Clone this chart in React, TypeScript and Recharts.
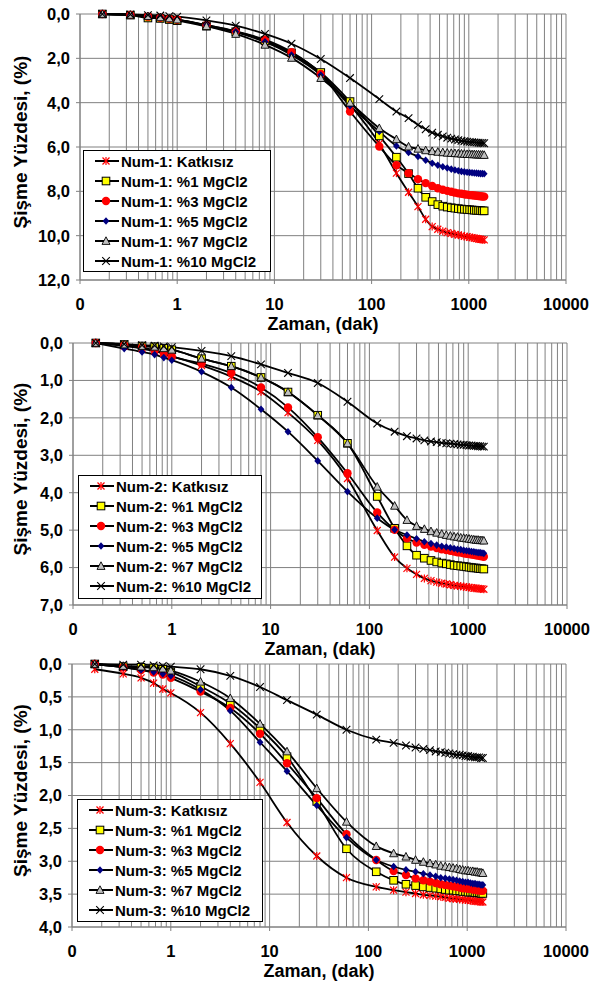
import React from "react";
import { LineChart, Line, XAxis, YAxis, CartesianGrid, ReferenceLine, Legend } from "recharts";

const FONT = '"Liberation Sans", Arial, sans-serif';

// zaman (dak)
const times = [0.17, 0.33, 0.5, 0.67, 0.83, 1, 2, 4, 8, 15, 30, 60, 120, 180, 240, 300, 360, 420, 480, 540, 600, 660, 720, 780, 840, 900, 960, 1020, 1080, 1140, 1200, 1260, 1320, 1380, 1440];

const xTicks = [0.1, 1, 10, 100, 1000, 10000];
const seriesLabels = ["Katkısız", "%1 MgCl2", "%3 MgCl2", "%5 MgCl2", "%7 MgCl2", "%10 MgCl2"];
const markerKinds = ["star", "square", "circle", "diamond", "triangle", "cross"];

// Num-1
const num1Katkisiz = [0.0, 0.03, 0.12, 0.18, 0.22, 0.27, 0.52, 0.82, 1.25, 1.8, 2.7, 4.1, 5.85, 7.18, 8.04, 8.69, 9.26, 9.59, 9.71, 9.8, 9.86, 9.9, 9.94, 9.97, 10.0, 10.03, 10.05, 10.07, 10.09, 10.11, 10.13, 10.15, 10.16, 10.18, 10.19];
const num1Mg1 = [0.0, 0.05, 0.18, 0.2, 0.25, 0.3, 0.55, 0.8, 1.2, 1.75, 2.64, 3.95, 5.5, 6.46, 7.2, 7.86, 8.27, 8.46, 8.6, 8.67, 8.71, 8.74, 8.76, 8.78, 8.8, 8.81, 8.82, 8.83, 8.84, 8.85, 8.86, 8.86, 8.87, 8.88, 8.88];
const num1Mg3 = [0.0, 0.04, 0.12, 0.17, 0.22, 0.26, 0.5, 0.78, 1.16, 1.72, 2.7, 4.4, 5.98, 6.82, 7.18, 7.45, 7.63, 7.76, 7.86, 7.93, 7.98, 8.02, 8.06, 8.09, 8.11, 8.13, 8.15, 8.17, 8.18, 8.19, 8.2, 8.21, 8.22, 8.23, 8.24];
const num1Mg5 = [0.0, 0.04, 0.1, 0.15, 0.2, 0.25, 0.5, 0.8, 1.25, 1.85, 2.75, 4.14, 5.3, 5.95, 6.25, 6.43, 6.6, 6.73, 6.82, 6.89, 6.95, 7.0, 7.04, 7.07, 7.1, 7.12, 7.14, 7.15, 7.16, 7.17, 7.18, 7.19, 7.2, 7.2, 7.21];
const num1Mg7 = [0.0, 0.04, 0.1, 0.15, 0.2, 0.25, 0.55, 0.9, 1.39, 1.98, 2.89, 4.0, 5.15, 5.65, 5.98, 6.08, 6.15, 6.19, 6.22, 6.24, 6.26, 6.27, 6.28, 6.29, 6.3, 6.31, 6.32, 6.32, 6.33, 6.33, 6.34, 6.34, 6.35, 6.35, 6.36];
const num1Mg10 = [0.0, 0.02, 0.05, 0.07, 0.1, 0.12, 0.29, 0.53, 0.9, 1.34, 2.03, 2.89, 3.84, 4.4, 4.7, 5.0, 5.2, 5.35, 5.45, 5.52, 5.58, 5.62, 5.66, 5.69, 5.72, 5.74, 5.76, 5.77, 5.78, 5.79, 5.8, 5.81, 5.82, 5.82, 5.83];

// Num-2
const num2Katkisiz = [0.0, 0.08, 0.15, 0.22, 0.28, 0.35, 0.6, 0.9, 1.3, 1.86, 2.6, 3.62, 5.01, 5.72, 6.02, 6.18, 6.29, 6.35, 6.39, 6.42, 6.44, 6.46, 6.48, 6.49, 6.5, 6.51, 6.52, 6.53, 6.54, 6.55, 6.55, 6.56, 6.57, 6.57, 6.58];
const num2Mg1 = [0.0, 0.04, 0.08, 0.1, 0.14, 0.18, 0.42, 0.62, 0.92, 1.31, 1.93, 2.68, 4.1, 4.95, 5.42, 5.67, 5.75, 5.81, 5.85, 5.88, 5.9, 5.92, 5.94, 5.95, 5.96, 5.97, 5.98, 5.99, 6.0, 6.01, 6.01, 6.02, 6.03, 6.03, 6.04];
const num2Mg3 = [0.0, 0.06, 0.12, 0.2, 0.28, 0.36, 0.55, 0.8, 1.19, 1.72, 2.52, 3.48, 4.53, 4.99, 5.22, 5.33, 5.39, 5.44, 5.48, 5.51, 5.53, 5.55, 5.57, 5.59, 5.6, 5.62, 5.63, 5.64, 5.65, 5.66, 5.67, 5.68, 5.69, 5.7, 5.71];
const num2Mg5 = [0.0, 0.15, 0.24, 0.31, 0.39, 0.46, 0.77, 1.19, 1.77, 2.37, 3.15, 3.97, 4.68, 4.99, 5.13, 5.23, 5.31, 5.36, 5.4, 5.43, 5.45, 5.47, 5.49, 5.51, 5.52, 5.54, 5.55, 5.56, 5.57, 5.58, 5.59, 5.6, 5.6, 5.61, 5.62];
const num2Mg7 = [0.0, 0.04, 0.08, 0.1, 0.14, 0.18, 0.42, 0.62, 0.92, 1.31, 1.93, 2.68, 3.84, 4.35, 4.73, 4.89, 4.97, 5.03, 5.07, 5.1, 5.13, 5.15, 5.17, 5.18, 5.2, 5.21, 5.22, 5.23, 5.24, 5.25, 5.26, 5.26, 5.27, 5.27, 5.28];
const num2Mg10 = [0.0, 0.03, 0.06, 0.07, 0.09, 0.11, 0.21, 0.35, 0.57, 0.8, 1.07, 1.57, 2.15, 2.37, 2.49, 2.55, 2.6, 2.63, 2.65, 2.67, 2.68, 2.69, 2.7, 2.71, 2.72, 2.72, 2.73, 2.74, 2.74, 2.75, 2.75, 2.76, 2.76, 2.77, 2.77];

// Num-3
const num3Katkisiz = [0.08, 0.15, 0.21, 0.29, 0.38, 0.44, 0.74, 1.21, 1.8, 2.41, 2.92, 3.25, 3.39, 3.44, 3.47, 3.49, 3.51, 3.52, 3.53, 3.54, 3.55, 3.56, 3.57, 3.57, 3.58, 3.58, 3.59, 3.59, 3.6, 3.6, 3.61, 3.61, 3.61, 3.62, 3.62];
const num3Mg1 = [0.0, 0.04, 0.05, 0.06, 0.08, 0.12, 0.34, 0.6, 0.98, 1.41, 2.09, 2.81, 3.16, 3.29, 3.35, 3.37, 3.39, 3.4, 3.41, 3.42, 3.43, 3.44, 3.44, 3.45, 3.45, 3.46, 3.46, 3.47, 3.47, 3.47, 3.48, 3.48, 3.48, 3.49, 3.49];
const num3Mg3 = [0.0, 0.05, 0.09, 0.13, 0.16, 0.21, 0.42, 0.67, 1.06, 1.51, 2.04, 2.59, 2.98, 3.15, 3.21, 3.26, 3.29, 3.31, 3.33, 3.35, 3.36, 3.37, 3.38, 3.39, 3.4, 3.41, 3.41, 3.42, 3.42, 3.43, 3.43, 3.44, 3.44, 3.45, 3.45];
const num3Mg5 = [0.0, 0.05, 0.09, 0.12, 0.15, 0.18, 0.39, 0.71, 1.19, 1.63, 2.15, 2.64, 2.98, 3.08, 3.13, 3.16, 3.19, 3.21, 3.23, 3.25, 3.26, 3.27, 3.28, 3.29, 3.3, 3.31, 3.32, 3.32, 3.33, 3.34, 3.34, 3.35, 3.35, 3.36, 3.36];
const num3Mg7 = [0.0, 0.03, 0.04, 0.05, 0.07, 0.1, 0.27, 0.52, 0.91, 1.33, 1.89, 2.4, 2.77, 2.88, 2.93, 2.98, 3.01, 3.03, 3.05, 3.07, 3.08, 3.09, 3.1, 3.11, 3.12, 3.13, 3.14, 3.14, 3.15, 3.15, 3.16, 3.16, 3.17, 3.17, 3.18];
const num3Mg10 = [0.0, 0.01, 0.01, 0.02, 0.03, 0.04, 0.08, 0.18, 0.35, 0.55, 0.77, 1.0, 1.15, 1.2, 1.24, 1.27, 1.29, 1.31, 1.33, 1.34, 1.35, 1.36, 1.37, 1.38, 1.38, 1.39, 1.4, 1.4, 1.41, 1.41, 1.42, 1.42, 1.42, 1.43, 1.43];

const yTicks1 = [0, 2, 4, 6, 8, 10, 12];
const yTicks2 = [0, 1, 2, 3, 4, 5, 6, 7];
const yTicks3 = [0, 0.5, 1, 1.5, 2, 2.5, 3, 3.5, 4];

// ara ızgara çizgileri (log eksen)
const minorGrid: number[] = [];
[0.1, 1, 10, 100, 1000].forEach((d) => {
  for (let m = 2; m <= 9; m++) minorGrid.push(Number((d * m).toPrecision(3)));
});

const panels = [
  { prefix: "Num-1", series: [num1Katkisiz, num1Mg1, num1Mg3, num1Mg5, num1Mg7, num1Mg10], yTicks: yTicks1,
    top: 0, height: 336, plotTop: 14, left: 80, right: 566, legend: { left: 83, top: 150, width: 188, height: 122 } },
  { prefix: "Num-2", series: [num2Katkisiz, num2Mg1, num2Mg3, num2Mg5, num2Mg7, num2Mg10], yTicks: yTicks2,
    top: 330, height: 331, plotTop: 13, left: 73, right: 567, legend: { left: 78, top: 145, width: 184, height: 124 } },
  { prefix: "Num-3", series: [num3Katkisiz, num3Mg1, num3Mg3, num3Mg5, num3Mg7, num3Mg10], yTicks: yTicks3,
    top: 650, height: 333, plotTop: 14, left: 72, right: 566, legend: { left: 77, top: 149, width: 186, height: 123 } },
];

const X_AXIS_H = 56;

const Marker = ({ kind, cx, cy }: { kind: string; cx: number; cy: number }) => {
  if (cx == null || cy == null || isNaN(cx) || isNaN(cy)) return <g />;
  switch (kind) {
    case "star":
      return (
        <g stroke="#ff0000" strokeWidth={1.2}>
          <line x1={cx - 3.5} y1={cy - 3.5} x2={cx + 3.5} y2={cy + 3.5} />
          <line x1={cx - 3.5} y1={cy + 3.5} x2={cx + 3.5} y2={cy - 3.5} />
          <line x1={cx} y1={cy - 4} x2={cx} y2={cy + 4} />
        </g>
      );
    case "square":
      return <rect x={cx - 3.8} y={cy - 3.8} width={7.6} height={7.6} fill="#ffff00" stroke="#000" strokeWidth={1} />;
    case "circle":
      return <circle cx={cx} cy={cy} r={4.2} fill="#ff0000" />;
    case "diamond":
      return <path d={`M${cx},${cy - 3.8}L${cx + 3.4},${cy}L${cx},${cy + 3.8}L${cx - 3.4},${cy}Z`} fill="#000080" />;
    case "triangle":
      return <path d={`M${cx},${cy - 4.2}L${cx + 4},${cy + 3.4}L${cx - 4},${cy + 3.4}Z`} fill="#c0c0c0" stroke="#000" strokeWidth={0.9} />;
    default:
      return (
        <g stroke="#000" strokeWidth={1.1}>
          <line x1={cx - 3.8} y1={cy - 3.8} x2={cx + 3.8} y2={cy + 3.8} />
          <line x1={cx - 3.8} y1={cy + 3.8} x2={cx + 3.8} y2={cy - 3.8} />
        </g>
      );
  }
};

const LegendBox = ({ prefix }: { prefix: string }) => (
  <div
    style={{
      border: "1px solid #000",
      background: "#fff",
      boxSizing: "border-box",
      width: "100%",
      height: "100%",
      fontFamily: FONT,
      fontWeight: "bold",
      fontSize: 15,
      color: "#000",
    }}
  >
    {seriesLabels.map((lab, i) => (
      <div key={lab} style={{ display: "flex", alignItems: "center", height: 20 }}>
        <svg width={36} height={20} style={{ flex: "none" }}>
          <line x1={11} x2={35} y1={10} y2={10} stroke="#000" strokeWidth={2} />
          <Marker kind={markerKinds[i]} cx={22} cy={10} />
        </svg>
        <span style={{ whiteSpace: "nowrap", marginLeft: 1 }}>
          {prefix}: {lab}
        </span>
      </div>
    ))}
  </div>
);

const fmtY = (v: number) => v.toFixed(1).replace(".", ",");
const fmtX = (v: number) => (v < 1 ? "0" : String(v));

const Panel = ({ p }: { p: (typeof panels)[number] }) => {
  const data = times.map((t, i) => {
    const row: any = { t };
    p.series.forEach((s, j) => (row["s" + j] = s[i]));
    return row;
  });
  const plotBottom = p.height - X_AXIS_H;
  const yMax = p.yTicks[p.yTicks.length - 1];
  const tickStyle = { fontFamily: FONT, fontWeight: "bold", fontSize: 16.5, fill: "#000" };
  return (
    <div style={{ position: "absolute", left: 0, top: p.top, width: 592, height: p.height }}>
      <LineChart
        width={592}
        height={p.height}
        data={data}
        margin={{ top: p.plotTop, right: 592 - p.right, bottom: 0, left: 0 }}
      >
        <CartesianGrid stroke="#808080" strokeWidth={1} />
        {minorGrid.map((g) => (
          <ReferenceLine key={g} x={g} stroke="#808080" strokeWidth={1} />
        ))}
        <XAxis
          dataKey="t"
          type="number"
          scale="log"
          domain={[0.1, 10000]}
          ticks={xTicks}
          interval={0}
          allowDataOverflow
          tickFormatter={fmtX}
          height={X_AXIS_H}
          stroke="#808080"
          tickSize={4}
          tickMargin={14}
          tick={tickStyle}
          label={{
            content: () => (
              <text
                x={(p.left + p.right) / 2}
                y={plotBottom + 50}
                textAnchor="middle"
                style={{ fontFamily: FONT, fontWeight: "bold", fontSize: 18, fill: "#000" }}
              >
                Zaman, (dak)
              </text>
            ),
          }}
        />
        <YAxis
          type="number"
          reversed
          domain={[0, yMax]}
          ticks={p.yTicks}
          interval={0}
          tickFormatter={fmtY}
          width={p.left}
          stroke="#808080"
          tickSize={4}
          tickMargin={6}
          tick={tickStyle}
          label={{
            content: () => (
              <text
                transform={`translate(27, ${(p.plotTop + plotBottom) / 2 - 5}) rotate(-90)`}
                textAnchor="middle"
                style={{ fontFamily: FONT, fontWeight: "bold", fontSize: 19, fill: "#000" }}
              >
                Şişme Yüzdesi, (%)
              </text>
            ),
          }}
        />
        {p.series.map((_, j) => (
          <Line
            key={j}
            dataKey={"s" + j}
            name={`${p.prefix}: ${seriesLabels[j]}`}
            type="monotone"
            stroke="#000"
            strokeWidth={1.8}
            isAnimationActive={false}
            activeDot={false}
            dot={(dp: any) => <Marker key={`${j}-${dp.index}`} kind={markerKinds[j]} cx={dp.cx} cy={dp.cy} />}
          />
        ))}
        <Legend
          layout="vertical"
          align="center"
          verticalAlign="middle"
          wrapperStyle={{ ...p.legend }}
          content={() => <LegendBox prefix={p.prefix} />}
        />
      </LineChart>
    </div>
  );
};

export default function App() {
  return (
    <div style={{ position: "absolute", left: 0, top: 0, width: 592, height: 983, background: "#fff", overflow: "hidden" }}>
      {panels.map((p) => (
        <Panel key={p.prefix} p={p} />
      ))}
    </div>
  );
}
